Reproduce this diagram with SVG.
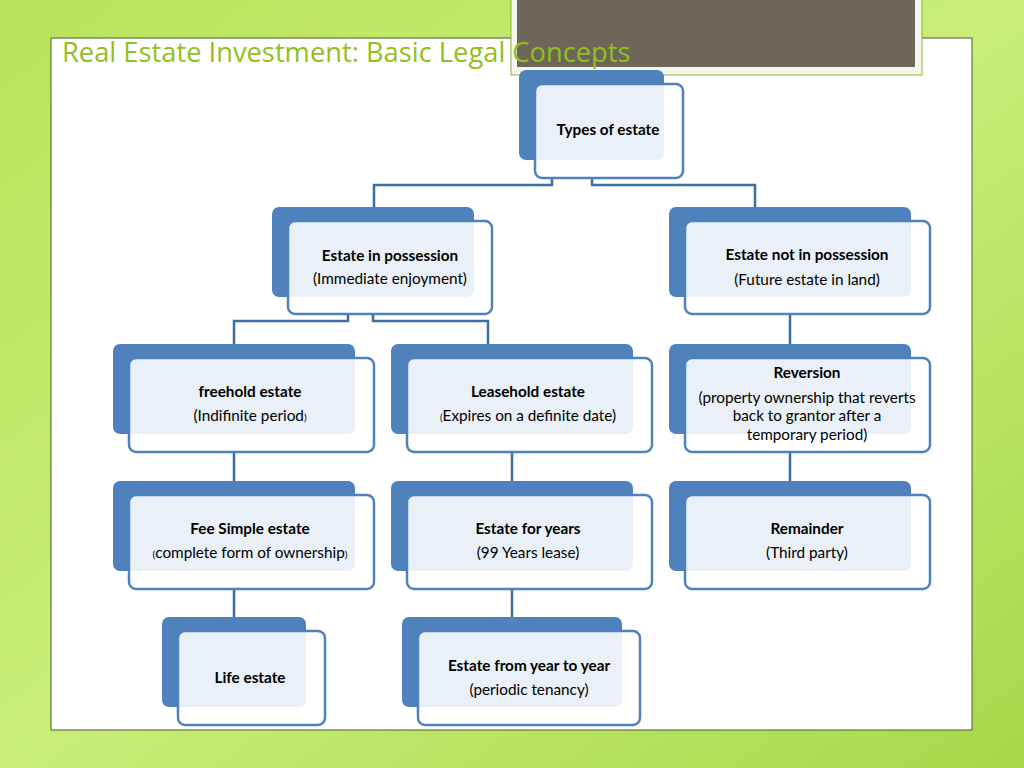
<svg xmlns="http://www.w3.org/2000/svg" width="1024" height="768" viewBox="0 0 1024 768">
<defs>
<linearGradient id="bg" x1="0" y1="0" x2="1" y2="1">
<stop offset="0" stop-color="#b9e35a"/><stop offset="0.5" stop-color="#c8ee78"/><stop offset="1" stop-color="#a6d84a"/>
</linearGradient>
<style>
.b{fill:#4f81bd}
.f{fill:#fff;fill-opacity:0.88;stroke:#4f81bd;stroke-width:2.5}
.t{font-family:Lato,"Liberation Sans",sans-serif;font-size:15.3px;text-anchor:middle;fill:#000}
.h{font-weight:bold}
.c{fill:none;stroke:#3f6fa0;stroke-width:2.5}
</style>
</defs>
<rect width="1024" height="768" fill="url(#bg)"/>
<rect x="51" y="38" width="921" height="692" fill="#fff" stroke="#4a5a2a" stroke-width="1"/>
<rect x="511" y="-2" width="411" height="77" fill="#f4f6ee" stroke="#8fb030" stroke-width="1"/>
<rect x="517" y="-2" width="398" height="69" fill="#6f665a"/>
<text x="62" y="62" font-family="'Open Sans','Noto Sans',sans-serif" font-size="27.3" fill="#93bf1c">Real Estate Investment: Basic Legal Concepts</text>
<g id="connectors" class="c">
<path d="M552 178V185H374V207M592 178V185H755V207"/>
<path d="M348 314V321H234V344M373 314V321H488V344"/>
<path d="M790 314V344M234 452V481M512 452V481M790 452V481M234 589V617M512 589V617"/>
</g>
<g id="types"><rect class="b" x="519" y="70" width="145" height="90" rx="7"/><rect class="f" x="535" y="84" width="148" height="94" rx="7"/><text class="t h" x="608" y="135">Types of estate</text></g>
<g id="possession"><rect class="b" x="272" y="207" width="202" height="90" rx="7"/><rect class="f" x="288" y="221" width="204" height="93" rx="7"/><text class="t h" x="390" y="261">Estate in possession</text><text class="t" x="390" y="284">(Immediate enjoyment)</text></g>
<g id="notpossession"><rect class="b" x="669" y="207" width="242" height="90" rx="7"/><rect class="f" x="685" y="221" width="245" height="93" rx="7"/><text class="t h" x="807" y="260">Estate not in possession</text><text class="t" x="807" y="285">(Future estate in land)</text></g>
<g id="freehold"><rect class="b" x="113" y="344" width="242" height="90" rx="7"/><rect class="f" x="129" y="358" width="245" height="94" rx="7"/><text class="t h" x="250" y="397">freehold estate</text><text class="t" x="250" y="421">(Indifinite period<tspan font-size="10">)</tspan></text></g>
<g id="leasehold"><rect class="b" x="391" y="344" width="242" height="90" rx="7"/><rect class="f" x="407" y="358" width="245" height="94" rx="7"/><text class="t h" x="528" y="397">Leasehold estate</text><text class="t" x="528" y="421"><tspan font-size="10">(</tspan>Expires on a definite date)</text></g>
<g id="reversion"><rect class="b" x="669" y="344" width="242" height="90" rx="7"/><rect class="f" x="685" y="358" width="245" height="94" rx="7"/><text class="t h" x="807" y="378">Reversion</text><text class="t" x="807" y="403">(property ownership that reverts</text><text class="t" x="807" y="421">back to grantor after a</text><text class="t" x="807" y="440">temporary period)</text></g>
<g id="feesimple"><rect class="b" x="113" y="481" width="242" height="90" rx="7"/><rect class="f" x="129" y="495" width="245" height="94" rx="7"/><text class="t h" x="250" y="534">Fee Simple estate</text><text class="t" x="250" y="558"><tspan font-size="10">(</tspan>complete form of ownership<tspan font-size="10">)</tspan></text></g>
<g id="years"><rect class="b" x="391" y="481" width="242" height="90" rx="7"/><rect class="f" x="407" y="495" width="245" height="94" rx="7"/><text class="t h" x="528" y="534">Estate for years</text><text class="t" x="528" y="558">(99 Years lease)</text></g>
<g id="remainder"><rect class="b" x="669" y="481" width="242" height="90" rx="7"/><rect class="f" x="685" y="495" width="245" height="94" rx="7"/><text class="t h" x="807" y="534">Remainder</text><text class="t" x="807" y="558">(Third party)</text></g>
<g id="life"><rect class="b" x="162" y="617" width="144" height="90" rx="7"/><rect class="f" x="178" y="631" width="147" height="94" rx="7"/><text class="t h" x="250" y="683">Life estate</text></g>
<g id="yeartoyear"><rect class="b" x="402" y="617" width="220" height="90" rx="7"/><rect class="f" x="418" y="631" width="222" height="94" rx="7"/><text class="t h" x="529" y="671">Estate from year to year</text><text class="t" x="529" y="695">(periodic tenancy)</text></g>
</svg>
